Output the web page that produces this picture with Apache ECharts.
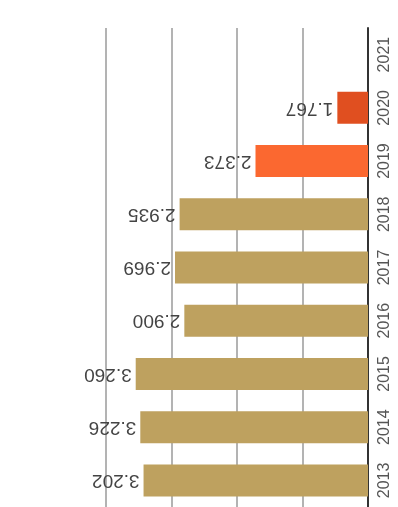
<!DOCTYPE html>
<html>
<head>
<meta charset="utf-8">
<script src="https://cdn.jsdelivr.net/npm/echarts@6/dist/echarts.min.js"></script>
<style>
html, body {margin: 0; padding: 0; background: #fff;}
#chart {width: 398px; height: 507px;}
</style>
</head>
<body>
<div id="chart"></div>
<script>
// dados
const years = ['2013', '2014', '2015', '2016', '2017', '2018', '2019', '2020', '2021'];
const values = [3202, 3226, 3260, 2900, 2969, 2935, 2373, 1767, 1];
const titleText = 'Produtividade Série Histórica (Pacientes/ano)';
const noteMark = '7';

// cores por ano
const barColors = ['#bea15f', '#bea15f', '#bea15f', '#bea15f', '#bea15f', '#bea15f', '#fb6830', '#e04f20', '#e04f20'];
const xMin = 1540;
const xMax = 3480;

function fmt(v) {
    if (v < 1000) return String(v);
    return Math.floor(v / 1000) + '.' + String(v % 1000).padStart(3, '0');
}

let myChart = echarts.init(document.getElementById('chart'));
let labelStyle = {
    show: true,
    position: 'left',
    rotate: 180,
    align: 'left',
    verticalAlign: 'middle',
    distance: 4,
    color: '#444',
    fontSize: 19,
    fontFamily: 'Liberation Sans',
    formatter: function (p) { return fmt(p.value); }
};

myChart.setOption({
    animation: false,
    grid: {left: 106, right: 30, top: 28, height: 486},
    xAxis: [
        {
            type: 'value', inverse: true, min: xMin, max: xMax,
            axisLabel: {show: false}, splitLine: {show: false}
        },
        {
            type: 'value', min: 0, max: 4, interval: 1,
            axisLabel: {show: false},
            splitLine: {show: true, lineStyle: {color: '#9a9a9a', width: 1.5}}
        }
    ],
    yAxis: {
        type: 'category',
        position: 'right',
        data: years,
        axisLine: {show: true, onZero: false, lineStyle: {color: '#333', width: 2}},
        axisTick: {show: false},
        axisLabel: {rotate: 90, margin: 9, color: '#555', fontSize: 16, fontFamily: 'Liberation Sans'}
    },
    series: [{
        type: 'bar',
        barWidth: 32,
        data: values.map(function (v, i) {
            return {value: v, itemStyle: {color: barColors[i]}};
        }),
        label: labelStyle
    }]
});
</script>
</body>
</html>
